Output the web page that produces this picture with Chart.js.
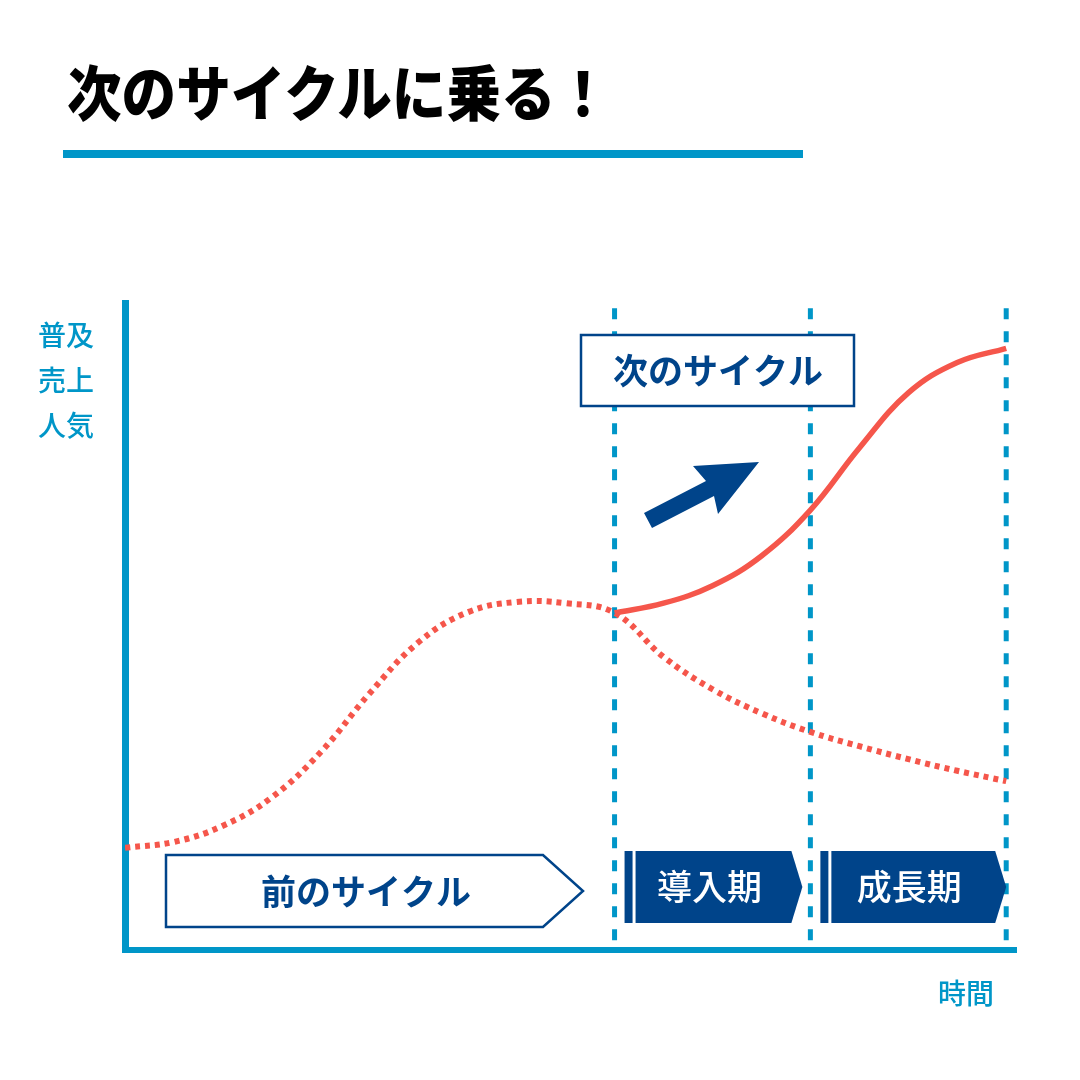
<!DOCTYPE html>
<html lang="ja">
<head>
<meta charset="utf-8">
<title>次のサイクルに乗る！</title>
<script src="https://cdn.jsdelivr.net/npm/chart.js@4.4.1/dist/chart.umd.min.js"></script>
<style>
  html, body { margin: 0; padding: 0; background: #fff; }
  #wrap { position: relative; width: 1080px; height: 1080px; overflow: hidden; }
  #cycleChart { position: absolute; left: 0; top: 0; }
  h1 {
    position: absolute; left: 67px; top: 60px; margin: 0;
    font: 900 60px/60px "Noto Sans CJK JP", sans-serif; color: #000;
    transform: scaleX(0.91); transform-origin: left center; white-space: nowrap;
  }
  .rule { position: absolute; left: 63px; top: 150px; width: 740px; height: 8px; background: #0096c8; }
</style>
</head>
<body>
<div id="wrap">
  <canvas id="cycleChart" width="1080" height="1080"></canvas>
  <h1>次のサイクルに乗る！</h1>
  <div class="rule"></div>
</div>
<script>
// time axis: 0 = origin, phases start at 10 and 14, chart ends at 18
const prevSteps = [0, 1, 2, 3, 4, 5, 6, 7, 8, 9, 10, 11, 12, 13, 14, 15, 16, 17, 18];
const prevCycle = [15.8, 16.7, 19.2, 23.6, 30.6, 39.7, 47.6, 52.2, 53.8, 53.6, 52.1, 45.3, 40.3, 36.6, 33.7, 31.5, 29.5, 27.7, 26.1];
const nextSteps = [10, 11, 12, 13, 14, 15, 16, 17, 18];
const nextCycle = [52.1, 53.6, 56.3, 60.9, 68.0, 77.6, 86.1, 90.8, 93.0];
const phaseBounds = [10, 14, 18];
const phaseLabels = ["導入期", "成長期"];
const yAxisCaption = ["普及", "売上", "人気"];
const xAxisCaption = "時間";
const prevLabel = "前のサイクル";
const nextLabel = "次のサイクル";

const NAVY = "#00448a";
const TEAL = "#0096c8";
const RED = "#f5564b";
const JP = "'Noto Sans CJK JP', sans-serif";

const toPoints = (xs, ys) => xs.map((x, i) => ({ x: x, y: ys[i] }));

const datasets = [
  {
    label: nextLabel,
    data: toPoints(nextSteps, nextCycle),
    borderColor: RED,
    borderWidth: 5.5,
    tension: 0.4,
    pointRadius: 0,
  },
  {
    label: prevLabel,
    data: toPoints(prevSteps, prevCycle),
    borderColor: RED,
    borderWidth: 6,
    borderDash: [5, 5],
    tension: 0.4,
    pointRadius: 0,
  },
];

// phase boundaries as dashed verticals
phaseBounds.forEach((b) => {
  datasets.push({
    label: "phase " + b,
    data: [{ x: b, y: 99.2 }, { x: b, y: 0 }],
    borderColor: TEAL,
    borderWidth: 5,
    borderDash: [11, 12],
    tension: 0,
    pointRadius: 0,
  });
});

const decorations = {
  id: "decorations",
  afterDatasetsDraw(chart) {
    const { ctx } = chart;
    const xs = chart.scales.x;
    ctx.save();
    ctx.textAlign = "center";
    ctx.textBaseline = "middle";

    // axis captions
    ctx.fillStyle = TEAL;
    ctx.font = "500 28px " + JP;
    yAxisCaption.forEach((line, i) => ctx.fillText(line, 66, 335 + i * 45));
    ctx.fillText(xAxisCaption, 966, 993);

    // previous cycle tag
    ctx.strokeStyle = NAVY;
    ctx.lineWidth = 2.5;
    ctx.fillStyle = "#fff";
    ctx.beginPath();
    ctx.moveTo(166, 855);
    ctx.lineTo(543, 855);
    ctx.lineTo(583, 891);
    ctx.lineTo(543, 927);
    ctx.lineTo(166, 927);
    ctx.closePath();
    ctx.fill();
    ctx.stroke();
    ctx.fillStyle = NAVY;
    ctx.font = "bold 35px " + JP;
    ctx.fillText(prevLabel, 366, 892);

    // next cycle box
    ctx.fillStyle = "#fff";
    ctx.fillRect(581, 335, 273, 71);
    ctx.strokeRect(581, 335, 273, 71);
    ctx.fillStyle = NAVY;
    ctx.fillText(nextLabel, 718, 371);

    // arrow
    ctx.beginPath();
    ctx.moveTo(644, 513);
    ctx.lineTo(706, 481);
    ctx.lineTo(693, 466);
    ctx.lineTo(759, 462);
    ctx.lineTo(718, 514);
    ctx.lineTo(714, 496);
    ctx.lineTo(652, 528);
    ctx.closePath();
    ctx.fill();

    // phase chevrons
    phaseLabels.forEach((name, i) => {
      const start = xs.getPixelForValue(phaseBounds[i]);
      const end = xs.getPixelForValue(phaseBounds[i + 1]);
      const last = i === phaseLabels.length - 1;
      const tip = end - (last ? 0 : 8);
      const left = start + 21;
      const top = 851, bottom = 923, mid = 887;
      ctx.fillStyle = NAVY;
      ctx.fillRect(start + 10, top, 8, bottom - top);
      ctx.beginPath();
      ctx.moveTo(left, top);
      ctx.lineTo(tip - 11, top);
      ctx.lineTo(tip, mid);
      ctx.lineTo(tip - 11, bottom);
      ctx.lineTo(left, bottom);
      ctx.closePath();
      ctx.fill();
      ctx.fillStyle = "#fff";
      ctx.font = "500 35px " + JP;
      ctx.fillText(name, (left + tip - 11) / 2 - 4, mid);
    });

    ctx.restore();
  },
};

new Chart(document.getElementById("cycleChart").getContext("2d"), {
  type: "line",
  data: { datasets: datasets },
  options: {
    responsive: false,
    animation: false,
    layout: { padding: { left: 125, right: 64, top: 303, bottom: 130 } },
    scales: {
      x: {
        type: "linear",
        min: 0,
        max: 18.2,
        ticks: { display: false },
        grid: { display: false, drawTicks: false },
        border: { display: true, color: TEAL, width: 6 },
      },
      y: {
        type: "linear",
        min: 0,
        max: 100,
        ticks: { display: false },
        grid: { display: false, drawTicks: false },
        border: { display: true, color: TEAL, width: 7 },
      },
    },
    plugins: {
      legend: { display: false },
      tooltip: { enabled: false },
      title: { display: false },
    },
  },
  plugins: [decorations],
});
</script>
</body>
</html>
